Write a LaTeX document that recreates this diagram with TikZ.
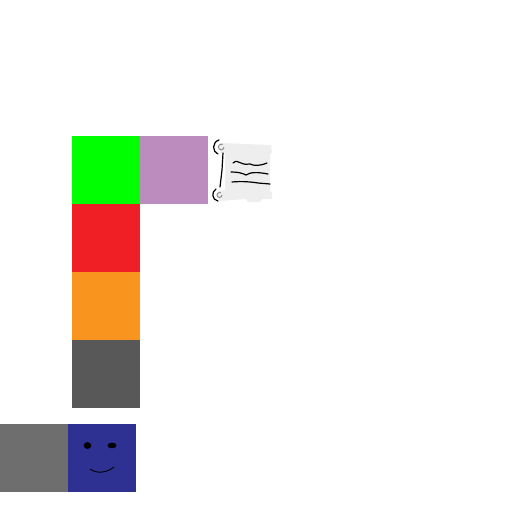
\documentclass[tikz,border=0pt]{standalone}
\usepackage{xcolor}
\definecolor{cGreen}{HTML}{00FF00}
\definecolor{cPurple}{HTML}{BB8CBD}
\definecolor{cRed}{HTML}{F01F26}
\definecolor{cOrange}{HTML}{F9951F}
\definecolor{cDark}{HTML}{585858}
\definecolor{cGray}{HTML}{6E6E6E}
\definecolor{cBlue}{HTML}{2E3192}
\definecolor{paper}{HTML}{EEEEEE}
\usetikzlibrary{positioning}
\begin{document}
\begin{tikzpicture}[
  x=1pt,y=-1pt,
  tile/.style={minimum size=68pt,inner sep=0pt,outer sep=0pt},
  ink/.style={black,line width=1.2pt,line cap=round},
  curl/.style={draw=black!45,line width=1pt},
  node distance=0pt]
\useasboundingbox (0,0) rectangle (512,512);
\node[tile,fill=cGreen] (green) at (106,170) {};
\node[tile,fill=cPurple,right=of green] (purple) {};
\node[tile,fill=cRed,below=of green] (red) {};
\node[tile,fill=cOrange,below=of red] (orange) {};
\node[tile,fill=cDark,below=of orange] (dark) {};
\node[tile,fill=cGray] (gray) at (34,458) {};
\node[tile,fill=cBlue,right=of gray] (blue) {};
% scroll
\fill[paper] (220,143) -- (271,145) -- (272,153) -- (270,154) -- (270,191)
  -- (272,192) -- (272,199) -- (262,199) -- (260,202) -- (248,202) -- (246,199)
  -- (219,201) -- (218,191) -- (225,190) -- (225,153) -- (220,153) -- cycle;
\draw[curl] (224,147) arc (0:300:2.8);
\draw[curl] (222,195) arc (0:300:2.5);
\draw[ink] (219,140) .. controls (212,142) and (212,152) .. (218,154);
\draw[ink] (216,189) .. controls (211,192) and (212,200) .. (218,201);
\draw[ink] (223,153) -- (222,170) -- (220,187);
\draw[ink] (233,163) .. controls (236,160) and (238,162) .. (241,163)
  .. controls (245,165) and (247,164) .. (250,164) .. controls (254,166) and (260,166) .. (267,163);
\draw[ink] (231,172) .. controls (238,172) and (242,173) .. (246,175)
  .. controls (250,172) and (258,172) .. (268,174);
\draw[ink] (232,182) .. controls (242,181) and (252,182) .. (258,183) -- (270,184);
% face
\fill[black] (87.5,445.5) ellipse (3.8 and 3.4);
\fill[black] (112,445.5) ellipse (4.5 and 2.8);
\draw[black,line width=0.9pt] (90,469) .. controls (96,473.5) and (106,473.5) .. (114,467);
\end{tikzpicture}
\end{document}
